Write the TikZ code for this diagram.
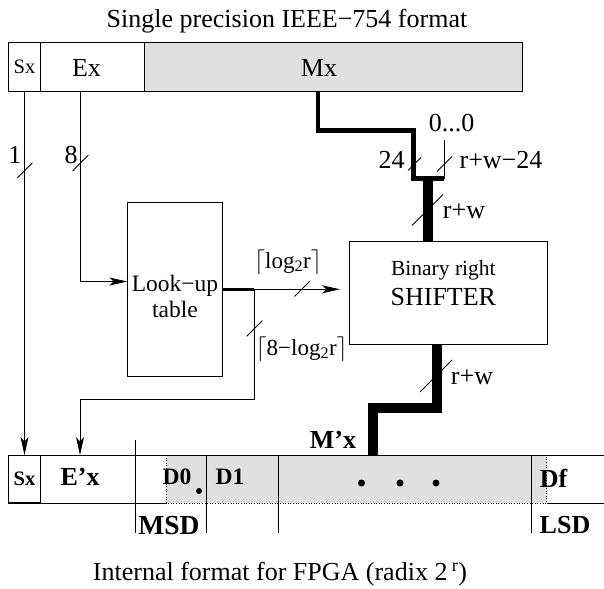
\documentclass[tikz,border=0pt]{standalone}
\usepackage{fontspec}
\setmainfont{Liberation Serif}
\usetikzlibrary{arrows.meta,positioning}
\tikzset{
  mezo/.style={draw,inner sep=0pt,outer sep=0pt,minimum height=49pt},
  felirat/.style={inner sep=0pt},
  nyil/.style={-{Stealth[length=18pt,width=8pt,inset=4.5pt]}},
  vekony/.style={line width=0.9pt},
  busz/.style={line width=4.5pt},
  vastag/.style={line width=10pt},
  pontozott/.style={dash pattern=on 1pt off 1.6pt},
  pics/jel/.style={code={\draw[line width=0.8pt] (-#1,-#1) -- (#1,#1);}},
}

\begin{document}
\begin{tikzpicture}[x=1pt,y=-1pt,vekony,font=\fontsize{26}{29}\selectfont]
  \useasboundingbox (0,0) rectangle (604,588);
  % IEEE-754 bemenet
  \node[felirat] (cimA) at (287,21.5) {Single precision IEEE−754 format};
  \node[mezo,minimum width=32.4pt,anchor=north west] (sxA) at (8.3,42.5) {};
  \node[mezo,minimum width=103.3pt,right=0pt of sxA] (exA) {};
  \node[mezo,minimum width=378.7pt,right=0pt of exA,fill=black!12] (mxA) {};
  \node[felirat,font=\fontsize{20.5}{24}\selectfont] (sxT) at (sxA.center) {Sx};
  \node[felirat] (exT) at (86.5,67.5) {Ex};
  \node[felirat] (mxT) at (319,67.5) {Mx};
  % blokkok
  \node[mezo,minimum width=95.4pt,minimum height=174pt,anchor=north west] (lut) at (127.3,202) {};
  \node[felirat,align=center,font=\fontsize{23.5}{26}\selectfont] (lutT) at ([yshift=-7pt]lut.center) {Look−up\\table};
  \node[mezo,minimum width=198.7pt,minimum height=102.3pt,anchor=north west] (shifter) at (349,241.7) {};
  \node[felirat,align=center] (shT) at ([xshift=-5pt,yshift=10pt]shifter.center)
    {{\fontsize{21.5}{24}\selectfont Binary right}\\[1pt]SHIFTER};
  % belso formatum
  \fill[black!12] (166.7,455) rectangle (546.7,503);
  \draw (8.3,455) -- (604,455);
  \draw (8.3,503) -- (166.7,503) (546.7,503) -- (604,503);
  \draw[pontozott] (166.7,455) -- (166.7,503) -- (546.7,503) -- (546.7,455);
  \node[mezo,minimum width=32.4pt,minimum height=47.5pt,anchor=north west,
    font=\bfseries\fontsize{20.5}{24}\selectfont] (sxB) at (8.3,455) {Sx};
  \draw (135.7,440) -- (135.7,533);
  \foreach \x in {206.7,278,531.7} \draw (\x,455) -- (\x,533);
  \begin{scope}[every node/.style={felirat,font=\bfseries\fontsize{26}{29}\selectfont}]
    \node (exB) at (80,477) {E’x};
    \node[font=\bfseries\fontsize{23.5}{26}\selectfont] (d0) at (177,477) {D0};
    \node[font=\bfseries\fontsize{23.5}{26}\selectfont] (d1) at (230,477) {D1};
    \node (df) at (553.5,478) {Df};
    \node[font=\bfseries\fontsize{27.5}{30}\selectfont] (msd) at (169,525.5) {MSD};
    \node (lsd) at (565,525) {LSD};
    \node (mvx) at (333,440) {M’x};
  \end{scope}
  \fill (199,491) circle (3pt);
  \foreach \x in {361.5,400,436} \fill (\x,483) circle (3.5pt);
  \node[felirat] (cimB) at (280,574.5) {Internal format for FPGA (radix 2\,\textsuperscript{r})};
  % segedpontok
  \coordinate (etap) at (80,91.5);
  \coordinate (mtap) at (318,91.5);
  \coordinate (mkanyar) at (413.5,130.5);
  \coordinate (zjoin) at (444,178.5);
  \coordinate (zero) at (444,140);
  \coordinate (wjoin) at (428,178.5);
  \coordinate (elag) at (254.3,289.3);
  \coordinate (ebend) at (80,399.3);
  \coordinate (sout) at (437,344);
  \coordinate (mbe) at (373,455);
  % vezetekek
  \draw[nyil] (sxA.south) -- (sxB.north);
  \draw[nyil] (etap) |- ([yshift=7.5pt]lut.west);
  \draw[line width=2.5pt] (lut.east |- elag) -- (elag);
  \draw[nyil,shorten >=9pt] (elag) -- (elag -| shifter.west);
  \draw[nyil] (elag) |- (ebend) -- (ebend |- sxB.north);
  \draw[busz] (mtap) |- (mkanyar) |- (zjoin);
  \draw (zjoin) -- (zero);
  \draw[vastag] (wjoin) -- (wjoin |- shifter.north);
  \draw[vastag] (sout) -- ++(0,64) -| (mbe);
  % busz jelolesek
  \pic at (24.8,170.5) {jel=7.5pt};
  \pic at (80.5,163) {jel=7.8pt};
  \pic at (414.5,164) {jel=6.5pt};
  \pic at (444.5,164) {jel=7.5pt};
  \pic at (427.5,210) {jel=15.5pt};
  \pic at (302,289) {jel=7.5pt};
  \pic at (254.5,328.5) {jel=7.8pt};
  \pic at (436,376) {jel=16pt};
  \node[felirat] (n1) at (15,155) {1};
  \node[felirat] (n8) at (71,155) {8};
  \node[felirat] (n24) at (391.7,160) {24};
  \node[felirat] (nul) at (451.7,123) {0...0};
  \node[felirat] (rw24) at (501,160) {r+w−24};
  \node[felirat] (rwA) at (464,211.7) {r+w};
  \node[felirat] (rwB) at (472,377) {r+w};
  \node[felirat,font=\fontsize{23}{26}\selectfont] (lg) at (288,262)
    {$\lceil$log\textsubscript{2}r$\rceil$};
  \node[felirat,font=\fontsize{23}{26}\selectfont] (lg8) at (301.7,349)
    {$\lceil$8−log\textsubscript{2}r$\rceil$};
\end{tikzpicture}
\end{document}
